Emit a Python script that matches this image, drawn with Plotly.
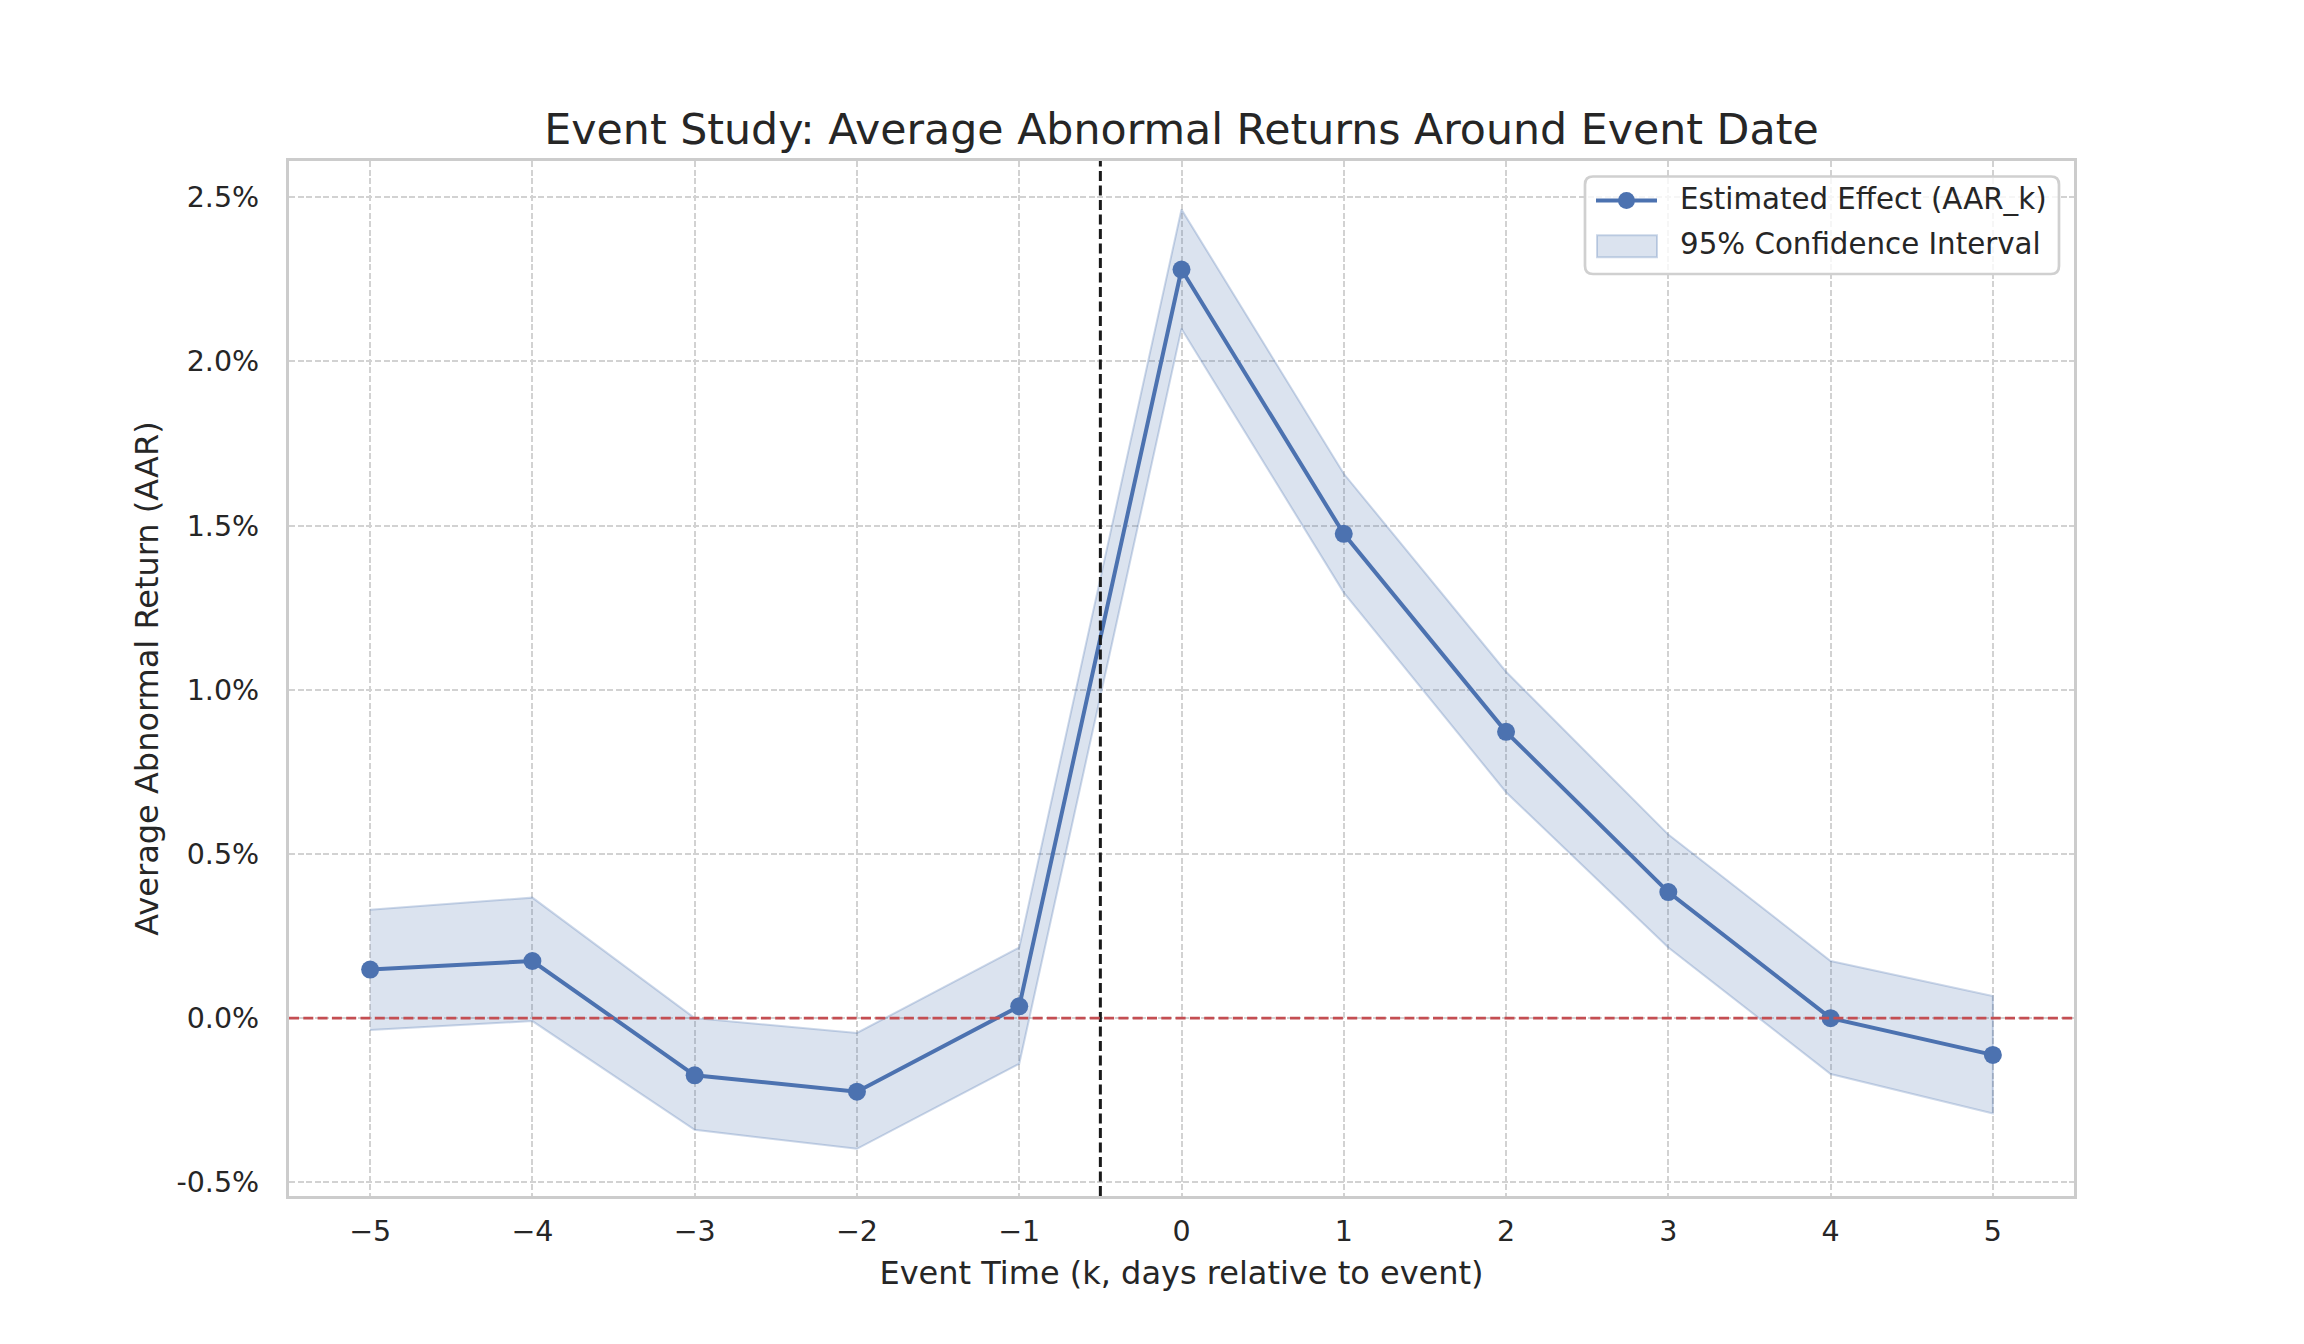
import plotly.graph_objects as go

# ---- data (percent) ----
event_time = [-5, -4, -3, -2, -1, 0, 1, 2, 3, 4, 5]
aar = [0.148, 0.174, -0.174, -0.224, 0.036, 2.28, 1.475, 0.872, 0.384, 0.0, -0.112]
ci_upper = [0.330, 0.367, 0.000, -0.045, 0.215, 2.463, 1.658, 1.055, 0.559, 0.174, 0.067]
ci_lower = [-0.036, -0.009, -0.340, -0.398, -0.139, 2.100, 1.296, 0.688, 0.215, -0.170, -0.290]

x_tickvals = [-5, -4, -3, -2, -1, 0, 1, 2, 3, 4, 5]
x_ticktext = ["\u22125", "\u22124", "\u22123", "\u22122", "\u22121", "0", "1", "2", "3", "4", "5"]
y_tickvals = [-0.5, 0.0, 0.5, 1.0, 1.5, 2.0, 2.5]
y_ticktext = ["-0.5%", "0.0%", "0.5%", "1.0%", "1.5%", "2.0%", "2.5%"]

series_names = ["Estimated Effect (AAR_k)", "95% Confidence Interval"]

event_line_x = -0.5
zero_line_y = 0.0

BLUE = "#4C72B0"
BAND_FILL = "rgba(76,114,176,0.2)"
BAND_EDGE = "rgba(76,114,176,0.28)"
TEXT = "#262626"
FONT = "DejaVu Sans"

# the page body has an 8px default margin; compensate so the picture lines up
OFF = 8
W, H = 2304 - OFF, 1344 - OFF
L, R, T, B = 289 - OFF, 2074 - OFF, 161 - OFF, 1196 - OFF  # plot area in figure pixels


def px(xp):
    return (xp - OFF - L) / (R - L)


def py(yp):
    return (B - (yp - OFF)) / (B - T)


fig = go.Figure()

# confidence band polygon
fig.add_trace(go.Scatter(
    x=event_time + event_time[::-1],
    y=ci_upper + ci_lower[::-1],
    fill="toself",
    fillcolor=BAND_FILL,
    line=dict(color=BAND_EDGE, width=2),
    mode="lines",
    name=series_names[1],
    hoverinfo="skip",
    showlegend=False,
))

fig.add_trace(go.Scatter(
    x=event_time, y=aar,
    mode="lines+markers",
    line=dict(color=BLUE, width=4),
    marker=dict(color=BLUE, size=18),
    name=series_names[0],
    showlegend=False,
))

# reference lines
fig.add_shape(type="line", xref="x", yref="paper", x0=event_line_x, x1=event_line_x, y0=0, y1=1,
              line=dict(color="#1a1a1a", width=3, dash="10px,4.5px"), layer="above")
fig.add_shape(type="line", xref="paper", yref="y", x0=0, x1=1, y0=zero_line_y, y1=zero_line_y,
              line=dict(color="#C44E52", width=2.7, dash="10px,4.3px"), layer="above")

# ---- legend (drawn in paper space, matplotlib-style rounded box) ----
bx0, bx1, by0, by1, rad = 1585, 2059, 176.5, 274, 8
path = (
    f"M {px(bx0 + rad)},{py(by0)} L {px(bx1 - rad)},{py(by0)} "
    f"Q {px(bx1)},{py(by0)} {px(bx1)},{py(by0 + rad)} "
    f"L {px(bx1)},{py(by1 - rad)} Q {px(bx1)},{py(by1)} {px(bx1 - rad)},{py(by1)} "
    f"L {px(bx0 + rad)},{py(by1)} Q {px(bx0)},{py(by1)} {px(bx0)},{py(by1 - rad)} "
    f"L {px(bx0)},{py(by0 + rad)} Q {px(bx0)},{py(by0)} {px(bx0 + rad)},{py(by0)} Z"
)
fig.add_shape(type="path", xref="paper", yref="paper", path=path,
              fillcolor="rgba(255,255,255,0.8)", line=dict(color="#d0d0d0", width=2.7),
              layer="above")
row1, row2 = 200.6, 246.3
hx0, hx1 = 1596, 1657
fig.add_shape(type="line", xref="paper", yref="paper", x0=px(hx0), x1=px(hx1), y0=py(row1), y1=py(row1),
              line=dict(color=BLUE, width=4), layer="above")
cx, cr = (hx0 + hx1) / 2, 8.5
fig.add_shape(type="circle", xref="paper", yref="paper", x0=px(cx - cr), x1=px(cx + cr),
              y0=py(row1 - cr), y1=py(row1 + cr), fillcolor=BLUE, line=dict(color=BLUE, width=0),
              layer="above")
fig.add_shape(type="rect", xref="paper", yref="paper", x0=px(hx0 + 1), x1=px(hx1), y0=py(row2 - 11),
              y1=py(row2 + 11), fillcolor=BAND_FILL, line=dict(color=BAND_EDGE, width=2), layer="above")
for name, ry in zip(series_names, [row1 - 1.5, row2 - 2.5]):
    fig.add_annotation(text=name, xref="paper", yref="paper", x=px(1678), y=py(ry),
                       xanchor="left", yanchor="middle", showarrow=False,
                       font=dict(family=FONT, size=29.3, color=TEXT))

axis_common = dict(
    showgrid=True, gridcolor="#d2d2d2", gridwidth=1.5, griddash="6px,2.6px",
    zeroline=False, showline=True, linecolor="#cccccc", linewidth=3.3, mirror=True,
    ticks="", tickfont=dict(family=FONT, size=28.5, color=TEXT),
)

fig.update_layout(
    width=W, height=H,
    paper_bgcolor="white", plot_bgcolor="white",
    margin=dict(l=L, r=W - R, t=T, b=H - B),
    title=dict(text="Event Study: Average Abnormal Returns Around Event Date",
               x=(L + R) / 2 / W, xanchor="center", y=1 - (129 - OFF) / H, yanchor="middle",
               font=dict(family=FONT, size=42.7, color=TEXT)),
    xaxis=dict(range=[-5.5, 5.5], tickvals=x_tickvals, ticktext=x_ticktext,
               title=dict(text="Event Time (k, days relative to event)", standoff=15,
                          font=dict(family=FONT, size=32, color=TEXT)),
               ticklabelstandoff=8,
               **axis_common),
    yaxis=dict(range=[-0.5417, 2.6106], tickvals=y_tickvals, ticktext=y_ticktext,
               title=dict(text="Average Abnormal Return (AAR)", standoff=9,
                          font=dict(family=FONT, size=32, color=TEXT)),
               ticklabelstandoff=21,
               **axis_common),
    showlegend=False,
)

fig.write_html("out.html")
